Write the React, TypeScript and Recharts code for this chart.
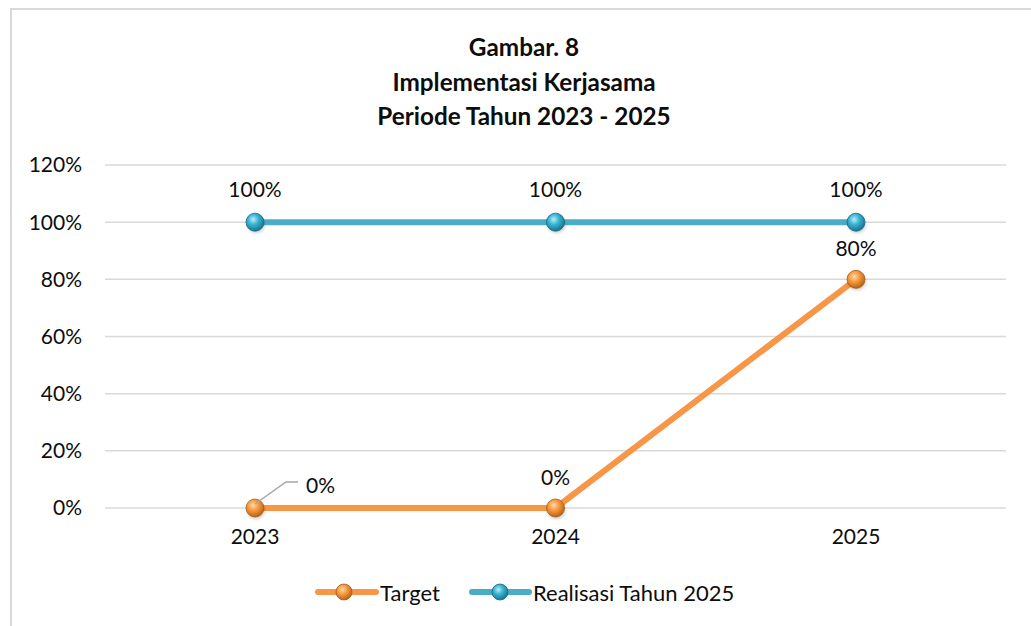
import React from 'react';
import { LineChart, Line, XAxis, YAxis, CartesianGrid } from 'recharts';

const years = ['2023', '2024', '2025'];
const targetValues = [0, 0, 80];
const realisasiValues = [100, 100, 100];
const yTicks = [0, 20, 40, 60, 80, 100, 120];
const titleLines = ['Gambar. 8', 'Implementasi Kerjasama', 'Periode Tahun 2023 - 2025'];

const data = years.map((year, i) => ({
  year,
  target: targetValues[i],
  realisasi: realisasiValues[i],
}));

const FONT = 'Lato, "Open Sans", sans-serif';
const ORANGE = '#F79646';
const BLUE = '#4BACC6';
const TXT = '#0d0d0d';
const FS = 21;

const sphere = (gradId: string, edge: string) => (props: any) => {
  const { cx, cy, index } = props;
  if (cx == null || cy == null) return <g key={`d-${gradId}-${index}`} />;
  return (
    <g key={`d-${gradId}-${index}`}>
      <ellipse cx={cx + 1} cy={cy + 3} rx={9} ry={8} fill="#000" opacity={0.18} filter="url(#blur)" />
      <circle cx={cx} cy={cy} r={9} fill={`url(#${gradId})`} stroke={edge} strokeWidth={0.8} />
    </g>
  );
};

const realisasiLabel = (props: any) => {
  const { x, y, value, index } = props;
  return (
    <text key={`rl-${index}`} x={x} y={y - 34} textAnchor="middle" dominantBaseline="central"
      fontFamily={FONT} fontSize={FS} fill={TXT}>
      {value}%
    </text>
  );
};

const targetLabel = (props: any) => {
  const { x, y, value, index } = props;
  if (index === 0) {
    return (
      <g key={`tl-${index}`}>
        <polyline points={`${x},${y - 4} ${x + 31},${y - 26} ${x + 43},${y - 26}`} fill="none" stroke="#a6a6a6" strokeWidth={1.5} />
        <text x={x + 51} y={y - 24} textAnchor="start" dominantBaseline="central" fontFamily={FONT} fontSize={FS} fill={TXT}>
          {value}%
        </text>
      </g>
    );
  }
  return (
    <text key={`tl-${index}`} x={x} y={y - 32} textAnchor="middle" dominantBaseline="central"
      fontFamily={FONT} fontSize={FS} fill={TXT}>
      {value}%
    </text>
  );
};

const LegendSphere = ({ cx, cy, gradId, edge }: any) => (
  <circle cx={cx} cy={cy} r={8} fill={`url(#${gradId})`} stroke={edge} strokeWidth={0.8} />
);

export default function App() {
  return (
    <div style={{ position: 'absolute', left: 0, top: 0, width: 1031, height: 626, background: '#fff', overflow: 'hidden' }}>
      <div style={{ position: 'absolute', left: 10, top: 8, width: 1040, height: 640, border: '2px solid #d9d9d9', boxSizing: 'border-box' }} />
      <div style={{ position: 'absolute', left: 0, top: 30, width: 1048, textAlign: 'center', fontFamily: FONT, fontWeight: 700, fontSize: 24.3, lineHeight: '34.5px', color: TXT }}>
        {titleLines.map((t) => (
          <div key={t}>{t}</div>
        ))}
      </div>
      <div style={{ position: 'absolute', left: 0, top: 0 }}>
        <LineChart width={1031} height={626} data={data} margin={{ top: 165, right: 25, bottom: 78, left: 0 }}>
          <defs>
            <radialGradient id="gOrange" cx="40%" cy="35%" r="65%">
              <stop offset="0%" stopColor="#FDD9A8" />
              <stop offset="45%" stopColor="#F79A40" />
              <stop offset="100%" stopColor="#B86418" />
            </radialGradient>
            <radialGradient id="gBlue" cx="40%" cy="35%" r="65%">
              <stop offset="0%" stopColor="#B8EEF8" />
              <stop offset="45%" stopColor="#38B3D3" />
              <stop offset="100%" stopColor="#1A7590" />
            </radialGradient>
            <filter id="blur" x="-50%" y="-50%" width="200%" height="200%">
              <feGaussianBlur stdDeviation="1.5" />
            </filter>
          </defs>
          <CartesianGrid vertical={false} stroke="#d9d9d9" strokeWidth={1.5} />
          <XAxis dataKey="year" axisLine={false} tickLine={false} tickSize={0} tickMargin={21}
            padding={{ left: 150, right: 150 }} height={40}
            tick={{ fontFamily: FONT, fontSize: FS, fill: TXT }} />
          <YAxis domain={[0, 120]} ticks={yTicks} width={105} axisLine={false} tickLine={false}
            tickSize={0} tickMargin={23} tickFormatter={(v: number) => `${v}%`}
            tick={{ fontFamily: FONT, fontSize: FS, fill: TXT }} />
          <Line dataKey="target" stroke={ORANGE} strokeWidth={6} isAnimationActive={false}
            dot={sphere('gOrange', '#A65A14')} activeDot={false} label={targetLabel} />
          <Line dataKey="realisasi" stroke={BLUE} strokeWidth={6} isAnimationActive={false}
            dot={sphere('gBlue', '#176A82')} activeDot={false} label={realisasiLabel} />
        </LineChart>
      </div>
      <svg style={{ position: 'absolute', left: 0, top: 570 }} width={1031} height={45}>
        <line x1={318} y1={22} x2={376} y2={22} stroke={ORANGE} strokeWidth={6} strokeLinecap="round" />
        <LegendSphere cx={344} cy={22} gradId="gOrange" edge="#A65A14" />
        <text x={380} y={22} dominantBaseline="central" fontFamily={FONT} fontSize={22} fill={TXT}>Target</text>
        <line x1={472} y1={22} x2={529} y2={22} stroke={BLUE} strokeWidth={6} strokeLinecap="round" />
        <LegendSphere cx={500} cy={22} gradId="gBlue" edge="#176A82" />
        <text x={533} y={22} dominantBaseline="central" fontFamily={FONT} fontSize={22} fill={TXT}>Realisasi Tahun 2025</text>
      </svg>
    </div>
  );
}
